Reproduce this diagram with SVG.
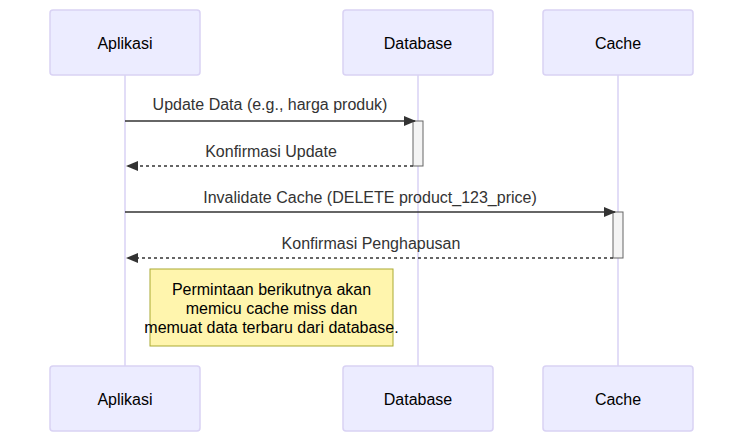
<svg xmlns="http://www.w3.org/2000/svg" width="743" height="442" viewBox="0 0 743 442">
<defs>
<style>
.actor{fill:#ECECFF;stroke:#d9d2f4;stroke-width:1.5}
.actor-text{font-family:"Liberation Sans",Arial,sans-serif;font-size:16px;fill:#000;text-anchor:middle;dominant-baseline:central}
.life{stroke:#d9d2f4;stroke-width:1.5}
.msg{stroke:#333;stroke-width:1.5;fill:none}
.dash{stroke-dasharray:3,3}
.msg-text{font-family:"Liberation Sans",Arial,sans-serif;font-size:16px;fill:#333;text-anchor:middle}
.act{fill:#f4f4f4;stroke:#666;stroke-width:1}
.note{fill:#fff5ad;stroke:#aaaa33;stroke-width:1}
.note-text{font-family:"Liberation Sans",Arial,sans-serif;font-size:16px;fill:#000;text-anchor:middle}
</style>
<marker id="arrow" viewBox="0 0 12 10" refX="11" refY="5" markerWidth="12" markerHeight="10" markerUnits="userSpaceOnUse" orient="auto">
<path d="M0,0 L12,5 L0,10 z" fill="#333"/>
</marker>
</defs>
<rect width="743" height="442" fill="#fff"/>
<g id="lifelines">
<line class="life" x1="125" y1="75" x2="125" y2="366"/>
<line class="life" x1="418" y1="75" x2="418" y2="366"/>
<line class="life" x1="618" y1="75" x2="618" y2="366"/>
</g>
<g id="actor-aplikasi-top"><rect class="actor" x="50" y="10" width="150" height="65" rx="3"/><text class="actor-text" x="125" y="43">Aplikasi</text></g>
<g id="actor-database-top"><rect class="actor" x="343" y="10" width="150" height="65" rx="3"/><text class="actor-text" x="418" y="43">Database</text></g>
<g id="actor-cache-top"><rect class="actor" x="543" y="10" width="150" height="65" rx="3"/><text class="actor-text" x="618" y="43">Cache</text></g>
<g id="actor-aplikasi-bottom"><rect class="actor" x="50" y="366" width="150" height="65" rx="3"/><text class="actor-text" x="125" y="399">Aplikasi</text></g>
<g id="actor-database-bottom"><rect class="actor" x="343" y="366" width="150" height="65" rx="3"/><text class="actor-text" x="418" y="399">Database</text></g>
<g id="actor-cache-bottom"><rect class="actor" x="543" y="366" width="150" height="65" rx="3"/><text class="actor-text" x="618" y="399">Cache</text></g>
<g id="activation-database"><rect class="act" x="413" y="121" width="10" height="45"/></g>
<g id="activation-cache"><rect class="act" x="613" y="212" width="10" height="46"/></g>
<g id="connectors">
<line class="msg" x1="125" y1="121" x2="415" y2="121" marker-end="url(#arrow)"/>
<text class="msg-text" x="270" y="110">Update Data (e.g., harga produk)</text>
<line class="msg dash" x1="413" y1="166" x2="127" y2="166" marker-end="url(#arrow)"/>
<text class="msg-text" x="271" y="157">Konfirmasi Update</text>
<line class="msg" x1="125" y1="212" x2="615" y2="212" marker-end="url(#arrow)"/>
<text class="msg-text" x="370" y="203">Invalidate Cache (DELETE product_123_price)</text>
<line class="msg dash" x1="613" y1="258" x2="127" y2="258" marker-end="url(#arrow)"/>
<text class="msg-text" x="371" y="249">Konfirmasi Penghapusan</text>
</g>
<g id="note">
<rect class="note" x="150" y="269" width="243" height="77"/>
<text class="note-text" x="271.5" y="295">Permintaan berikutnya akan</text>
<text class="note-text" x="271.5" y="314">memicu cache miss dan</text>
<text class="note-text" x="271.5" y="333">memuat data terbaru dari database.</text>
</g>
</svg>
